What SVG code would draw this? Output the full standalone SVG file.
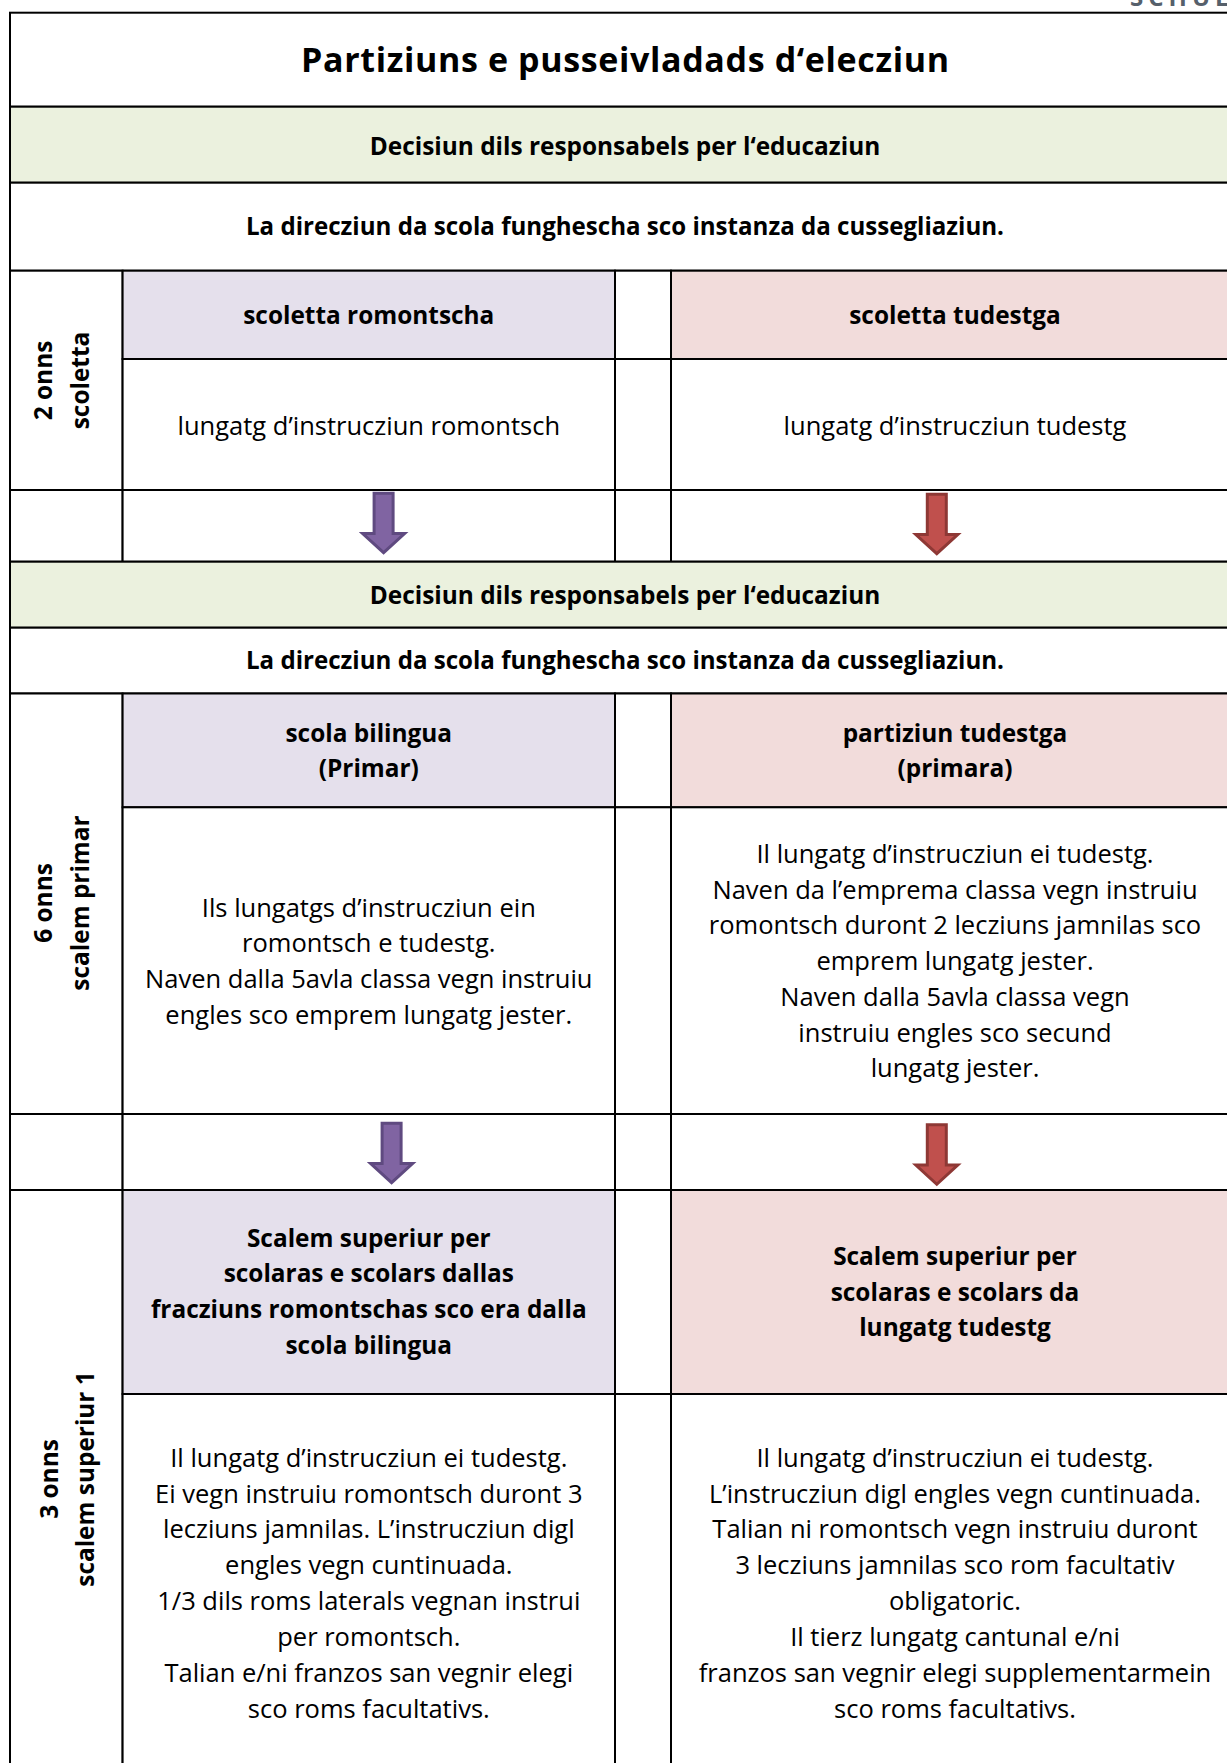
<svg xmlns="http://www.w3.org/2000/svg" xmlns:xlink="http://www.w3.org/1999/xlink" width="1227" height="1763" viewBox="0 0 1227 1763">
<style>
.c{stroke:#000;stroke-width:2}
.w{fill:#fff}
.g{fill:#EBF1DE}
.v{fill:#E5E0EC}
.p{fill:#F2DCDB}
text{font-family:"Open Sans","Liberation Sans",sans-serif;fill:#000;text-anchor:middle}
.b{font-weight:700;font-size:24.4px}
.r{font-weight:400;font-size:25.5px}
.t{font-weight:700;font-size:34px}
.ap{fill:#8064A2;stroke:#5F4A80;stroke-width:3}
.ar{fill:#C0504D;stroke:#8E3835;stroke-width:3}
</style>
<defs>
<path id="arrow" d="M-9.5,1.5 L9.5,1.5 L9.5,41.8 L21,41.8 L0,61 L-21,41.8 L-9.5,41.8 Z"/>
</defs>
<rect width="1227" height="1763" fill="#fff"/>
<text x="1130" y="6" style="font-weight:700;font-size:24px;fill:#56606B;text-anchor:start;letter-spacing:5px">SCHUL</text>

<g id="title"><rect class="c w" x="10" y="12.7" width="1230" height="94"/>
<text class="t" x="625" y="72" textLength="648" lengthAdjust="spacing">Partiziuns e pusseivladads d‘elecziun</text></g>

<g id="decision1"><rect class="c g" x="10" y="106.7" width="1230" height="76"/>
<text class="b" x="625" y="155">Decisiun dils responsabels per l‘educaziun</text></g>

<g id="direction1"><rect class="c w" x="10" y="182.7" width="1230" height="88"/>
<text class="b" x="625" y="235" textLength="758" lengthAdjust="spacingAndGlyphs">La direcziun da scola funghescha sco instanza da cussegliaziun.</text></g>

<g id="label-scoletta"><rect class="c w" x="10" y="270.7" width="112.6" height="219.3"/>
<text class="b" transform="translate(52,380.5) rotate(-90)">2 onns</text>
<text class="b" transform="translate(89,380.5) rotate(-90)">scoletta</text></g>

<g id="scoletta-romontscha"><rect class="c v" x="122.6" y="270.7" width="492.4" height="88.3"/>
<text class="b" x="368.8" y="323.5">scoletta romontscha</text></g>
<g id="gap-1a"><rect class="c w" x="615" y="270.7" width="56" height="88.3"/></g>
<g id="scoletta-tudestga"><rect class="c p" x="671" y="270.7" width="569" height="88.3"/>
<text class="b" x="955" y="323.5">scoletta tudestga</text></g>

<g id="lungatg-romontsch"><rect class="c w" x="122.6" y="359" width="492.4" height="131"/>
<text class="r" x="368.8" y="435">lungatg d’instrucziun romontsch</text></g>
<g id="gap-1b"><rect class="c w" x="615" y="359" width="56" height="131"/></g>
<g id="lungatg-tudestg"><rect class="c w" x="671" y="359" width="569" height="131"/>
<text class="r" x="955" y="435">lungatg d’instrucziun tudestg</text></g>

<g id="arrowrow-1"><rect class="c w" x="10" y="490" width="112.6" height="71.7"/>
<rect class="c w" x="122.6" y="490" width="492.4" height="71.7"/>
<rect class="c w" x="615" y="490" width="56" height="71.7"/>
<rect class="c w" x="671" y="490" width="569" height="71.7"/></g>

<g id="decision2"><rect class="c g" x="10" y="561.7" width="1230" height="66"/>
<text class="b" x="625" y="604">Decisiun dils responsabels per l‘educaziun</text></g>

<g id="direction2"><rect class="c w" x="10" y="627.7" width="1230" height="65.8"/>
<text class="b" x="625" y="669" textLength="758" lengthAdjust="spacingAndGlyphs">La direcziun da scola funghescha sco instanza da cussegliaziun.</text></g>

<g id="label-primar"><rect class="c w" x="10" y="693.5" width="112.6" height="420.5"/>
<text class="b" transform="translate(52,903) rotate(-90)">6 onns</text>
<text class="b" transform="translate(89,903) rotate(-90)">scalem primar</text></g>

<g id="scola-bilingua"><rect class="c v" x="122.6" y="693.5" width="492.4" height="113.8"/>
<text class="b" x="368.8" y="741.7">scola bilingua</text>
<text class="b" x="368.8" y="777.3">(Primar)</text></g>
<g id="gap-2a"><rect class="c w" x="615" y="693.5" width="56" height="113.8"/></g>
<g id="partiziun-tudestga"><rect class="c p" x="671" y="693.5" width="569" height="113.8"/>
<text class="b" x="955" y="741.7">partiziun tudestga</text>
<text class="b" x="955" y="777.3">(primara)</text></g>

<g id="primar-bilingua-text"><rect class="c w" x="122.6" y="807.3" width="492.4" height="306.7"/>
<text class="r" x="368.8" y="916.7">Ils lungatgs d’instrucziun ein</text>
<text class="r" x="368.8" y="952.4">romontsch e tudestg.</text>
<text class="r" x="368.8" y="988.1">Naven dalla 5avla classa vegn instruiu</text>
<text class="r" x="368.8" y="1023.8">engles sco emprem lungatg jester.</text></g>
<g id="gap-2b"><rect class="c w" x="615" y="807.3" width="56" height="306.7"/></g>
<g id="primar-tudestga-text"><rect class="c w" x="671" y="807.3" width="569" height="306.7"/>
<text class="r" x="955" y="863">Il lungatg d’instrucziun ei tudestg.</text>
<text class="r" x="955" y="898.7">Naven da l’emprema classa vegn instruiu</text>
<text class="r" x="955" y="934.4">romontsch duront 2 lecziuns jamnilas sco</text>
<text class="r" x="955" y="970.1">emprem lungatg jester.</text>
<text class="r" x="955" y="1005.8">Naven dalla 5avla classa vegn</text>
<text class="r" x="955" y="1041.5">instruiu engles sco secund</text>
<text class="r" x="955" y="1077.2">lungatg jester.</text></g>

<g id="arrowrow-2"><rect class="c w" x="10" y="1114" width="112.6" height="76"/>
<rect class="c w" x="122.6" y="1114" width="492.4" height="76"/>
<rect class="c w" x="615" y="1114" width="56" height="76"/>
<rect class="c w" x="671" y="1114" width="569" height="76"/></g>

<g id="label-superiur"><rect class="c w" x="10" y="1190" width="112.6" height="600"/>
<text class="b" transform="translate(57.5,1479) rotate(-90)">3 onns</text>
<text class="b" transform="translate(94,1479) rotate(-90)">scalem superiur 1</text></g>

<g id="superiur-romontsch"><rect class="c v" x="122.6" y="1190" width="492.4" height="204"/>
<text class="b" x="368.8" y="1246.7">Scalem superiur per</text>
<text class="b" x="368.8" y="1282.4">scolaras e scolars dallas</text>
<text class="b" x="368.8" y="1318.1">fracziuns romontschas sco era dalla</text>
<text class="b" x="368.8" y="1353.8">scola bilingua</text></g>
<g id="gap-3a"><rect class="c w" x="615" y="1190" width="56" height="204"/></g>
<g id="superiur-tudestg"><rect class="c p" x="671" y="1190" width="569" height="204"/>
<text class="b" x="955" y="1265">Scalem superiur per</text>
<text class="b" x="955" y="1300.7">scolaras e scolars da</text>
<text class="b" x="955" y="1336.4">lungatg tudestg</text></g>

<g id="superiur-romontsch-text"><rect class="c w" x="122.6" y="1394" width="492.4" height="400"/>
<text class="r" x="368.8" y="1466.6">Il lungatg d’instrucziun ei tudestg.</text>
<text class="r" x="368.8" y="1502.5">Ei vegn instruiu romontsch duront 3</text>
<text class="r" x="368.8" y="1538.4">lecziuns jamnilas. L’instrucziun digl</text>
<text class="r" x="368.8" y="1574.3">engles vegn cuntinuada.</text>
<text class="r" x="368.8" y="1610.2">1/3 dils roms laterals vegnan instrui</text>
<text class="r" x="368.8" y="1646.1">per romontsch.</text>
<text class="r" x="368.8" y="1682">Talian e/ni franzos san vegnir elegi</text>
<text class="r" x="368.8" y="1717.9">sco roms facultativs.</text></g>
<g id="gap-3b"><rect class="c w" x="615" y="1394" width="56" height="400"/></g>
<g id="superiur-tudestg-text"><rect class="c w" x="671" y="1394" width="569" height="400"/>
<text class="r" x="955" y="1466.6">Il lungatg d’instrucziun ei tudestg.</text>
<text class="r" x="955" y="1502.5">L’instrucziun digl engles vegn cuntinuada.</text>
<text class="r" x="955" y="1538.4">Talian ni romontsch vegn instruiu duront</text>
<text class="r" x="955" y="1574.3">3 lecziuns jamnilas sco rom facultativ</text>
<text class="r" x="955" y="1610.2">obligatoric.</text>
<text class="r" x="955" y="1646.1">Il tierz lungatg cantunal e/ni</text>
<text class="r" x="955" y="1682">franzos san vegnir elegi supplementarmein</text>
<text class="r" x="955" y="1717.9">sco roms facultativs.</text></g>

<g id="connectors">
<use xlink:href="#arrow" class="ap" transform="translate(383.6,491.7)"/>
<use xlink:href="#arrow" class="ar" transform="translate(936.8,492.7)"/>
<use xlink:href="#arrow" class="ap" transform="translate(391.6,1121.7)"/>
<use xlink:href="#arrow" class="ar" transform="translate(936.8,1123.3)"/>
</g>
</svg>
